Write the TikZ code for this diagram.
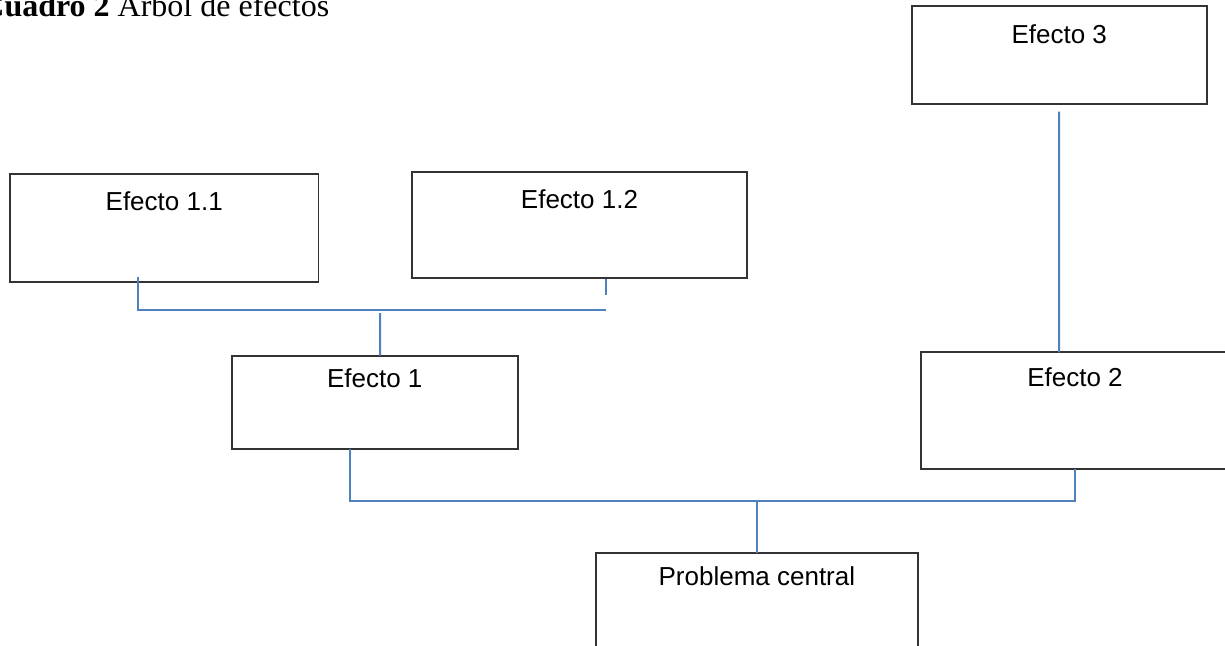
\documentclass[tikz,border=0pt]{standalone}
\usepackage{fontspec}
\setmainfont{Liberation Serif}
\newfontfamily\arialfont{Liberation Sans}
\definecolor{enlaceazul}{HTML}{4F81BD}
\tikzset{
  efecto/.style={draw=black!80, line width=0.9pt, rectangle, anchor=north west,
    inner ysep=0pt, outer sep=0pt, text height=9.5pt,
    font=\arialfont\fontsize{13pt}{15pt}\selectfont},
  enlace/.style={draw=enlaceazul, line width=1pt}
}
\begin{document}
\begin{tikzpicture}[x=0.5pt, y=-0.5pt]
  \useasboundingbox (0,0) rectangle (1225,645);
  \clip (0,0) rectangle (1225,645);

  \node[anchor=base west, inner sep=0pt, font=\fontsize{16pt}{19pt}\selectfont]
    (titulo) at (-19,16) {\textbf{Cuadro 2} Árbol de efectos};

  % cajas
  \node[efecto, minimum width=147.5pt, minimum height=49pt, text depth=20.9pt]
    (ef3) at (911.7,6) {Efecto 3};
  \node[efecto, minimum width=154.2pt, minimum height=53.7pt, text depth=27.2pt]
    (ef11) at (10,174.3) {Efecto 1.1};
  \node[efecto, minimum width=167.5pt, minimum height=53pt, text depth=25.9pt]
    (ef12) at (412,172) {Efecto 1.2};
  \node[efecto, minimum width=143pt, minimum height=46.5pt, text depth=23.8pt]
    (ef1) at (231.7,355.7) {Efecto 1};
  \node[efecto, minimum width=154pt, minimum height=58.5pt, text depth=33.4pt]
    (ef2) at (921,352.3) {Efecto 2};
  \node[efecto, minimum width=160.9pt, minimum height=60pt, text depth=36.9pt]
    (prob) at (596,553.3) {Problema central};

  % uniones
  \coordinate (b1) at (380,313);
  \coordinate (b1r) at (606,310);
  \coordinate (s12) at (606,295);
  \coordinate (b2) at (756.9,502);
  \coordinate (b2r) at (1075,501);

  \draw[enlace] ([xshift=-13.35pt,yshift=2.5pt]ef11.south) |- (b1r);
  \draw[enlace] ([xshift=13.25pt,yshift=-0.5pt]ef12.south) -- (s12);
  \draw[enlace] (b1) -- ([xshift=2.65pt]ef1.north);
  \draw[enlace] ([xshift=-12.35pt]ef1.south) |- (b2r) -- (ef2.south);
  \draw[enlace] (b2) -- (prob.north);
  \draw[enlace] ([yshift=-3.8pt]ef3.south) -- ([xshift=-8pt]ef2.north);
\end{tikzpicture}
\end{document}
